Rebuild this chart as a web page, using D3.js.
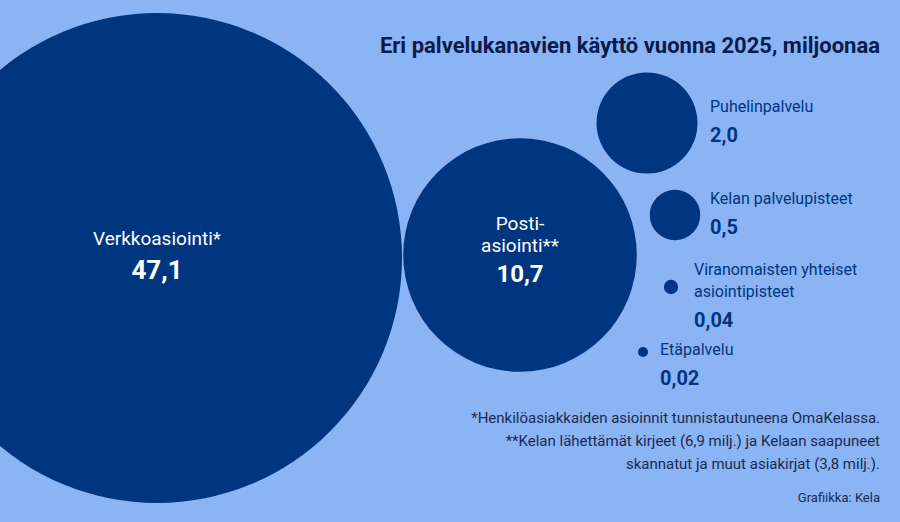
<!DOCTYPE html>
<html><head><meta charset="utf-8">
<script src="https://cdn.jsdelivr.net/npm/d3@7"></script>
<style>body{margin:0;background:#8ab4f3}svg{display:block;font-family:Roboto,sans-serif}</style>
</head><body><svg id="chart" width="900" height="522"></svg>
<script>
let channels = ["Verkkoasiointi*", "Posti-\nasiointi**", "Puhelinpalvelu", "Kelan palvelupisteet", "Viranomaisten yhteiset\nasiointipisteet", "Etäpalvelu"]
let values = [47.1, 10.7, 2.0, 0.5, 0.04, 0.02]
let valueLabels = ["47,1", "10,7", "2,0", "0,5", "0,04", "0,02"]

// layout: circle centres, label placement
let centres = [[157, 258], [520, 255], [647, 123], [675, 215], [671, 287], [643, 352]]
let inside = [true, true, false, false, false, false]
let labelPos = [[157, 245], [520, 230], [710, 112], [710, 204], [694, 275], [660, 355]]

let navy = "#003580"
let svg = d3.select('#chart')
svg.append('rect').attr('width', 900).attr('height', 522).attr('fill', '#8ab4f3')

let r = d3.scaleSqrt().domain([0, 47.1]).range([0, 245])

svg.selectAll('circle').data(values).join('circle')
  .attr('cx', (d, i) => centres[i][0]).attr('cy', (d, i) => centres[i][1])
  .attr('r', d => r(d)).attr('fill', navy)

channels.forEach((name, i) => {
  let lines = name.split('\n')
  let anchor = inside[i] ? 'middle' : 'start'
  let col = inside[i] ? '#fff' : navy
  let g = svg.append('g').attr('transform', 'translate(' + labelPos[i][0] + ',' + labelPos[i][1] + ')')
  lines.forEach((l, j) => g.append('text').text(l).attr('y', j * 22)
    .attr('text-anchor', anchor).attr('fill', col).attr('font-size', inside[i] ? 19 : 16))
  let big = i === 0
  g.append('text').text(valueLabels[i]).attr('y', lines.length * 22 + (big ? 12 : 8))
    .attr('text-anchor', anchor).attr('fill', col).attr('font-weight', 'bold')
    .attr('font-size', big ? 26 : (inside[i] ? 24 : 20))
})

svg.append('text').text('Eri palvelukanavien käyttö vuonna 2025, miljoonaa')
  .attr('x', 880).attr('y', 53).attr('text-anchor', 'end')
  .attr('font-weight', 'bold').attr('font-size', 22).attr('fill', '#0a1a4a')

let notes = ["*Henkilöasiakkaiden asioinnit tunnistautuneena OmaKelassa.",
  "**Kelan lähettämät kirjeet (6,9 milj.) ja Kelaan saapuneet",
  "skannatut ja muut asiakirjat (3,8 milj.)."]
notes.forEach((t, i) => svg.append('text').text(t).attr('x', 880).attr('y', 423 + i * 23)
  .attr('text-anchor', 'end').attr('font-size', 15).attr('fill', '#1a2a50'))
svg.append('text').text('Grafiikka: Kela').attr('x', 880).attr('y', 502)
  .attr('text-anchor', 'end').attr('font-size', 13).attr('fill', '#1a2a50')
</script></body></html>
